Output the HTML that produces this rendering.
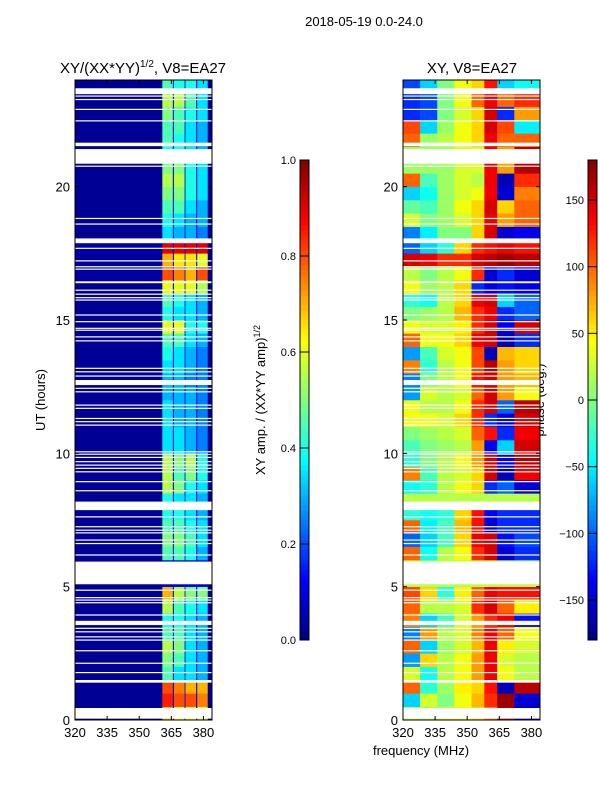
<!DOCTYPE html>
<html><head><meta charset="utf-8">
<style>
body{margin:0;background:#fff;}
svg text{font-family:"Liberation Sans","DejaVu Sans",sans-serif;fill:#000;}
</style></head>
<body>
<svg id="fig" width="600" height="800" viewBox="0 0 600 800" xmlns="http://www.w3.org/2000/svg">
<rect width="600" height="800" fill="#fff"/>
<text x="364" y="26" font-size="13" text-anchor="middle">2018-05-19 0.0-24.0</text>
<text x="143" y="73" font-size="15" text-anchor="middle">XY/(XX*YY)<tspan font-size="10" dy="-6">1/2</tspan><tspan dy="6">, V8=EA27</tspan></text>
<text x="472" y="73" font-size="15" text-anchor="middle">XY, V8=EA27</text>
<text x="0" y="0" font-size="13" text-anchor="middle" transform="translate(45,400) rotate(-90)">UT (hours)</text>
<text x="421" y="755" font-size="13" text-anchor="middle">frequency (MHz)</text>
<text x="0" y="0" font-size="13" text-anchor="middle" transform="translate(265,400) rotate(-90)">XY amp. / (XX*YY amp)<tspan font-size="9" dy="-5">1/2</tspan></text>
<text x="0" y="0" font-size="13" text-anchor="middle" transform="translate(544,400) rotate(-90)">phase (deg.)</text>
<g id="layer"></g>
</svg>
<script>
const timeStep = 0.5;
const ampFreqEdges = [320,360.8,365.7,366.2,371.2,371.6,376.6,377.1,382,384];
const phaseFreqEdges = [320,328,336,344,352,358,364,372,384];
const ampRows = [
[.02,.7,.1,.6,.1,.6,.1,.6,.02],
[.02,.85,.1,.8,.1,.8,.1,.75,.02],
[.02,.8,.1,.75,.1,.7,.1,.7,.02],
[.02,.45,.1,.35,.1,.35,.1,.3,.02],
[.02,.5,.1,.45,.1,.35,.1,.3,.02],
[.02,.55,.1,.5,.1,.35,.1,.3,.02],
[.02,.45,.1,.45,.1,.35,.1,.3,.02],
[.02,.4,.1,.4,.1,.35,.1,.3,.02],
[.02,.55,.1,.45,.1,.4,.1,.35,.02],
[.02,.7,.1,.55,.1,.5,.1,.5,.02],
[.02,.1,.1,.1,.1,.1,.1,.1,.02],
[.02,.1,.1,.1,.1,.1,.1,.1,.02],
[.02,.45,.1,.45,.1,.4,.1,.3,.02],
[.02,.5,.1,.5,.1,.45,.1,.35,.02],
[.02,.45,.1,.45,.1,.4,.1,.35,.02],
[.02,.4,.1,.4,.1,.35,.1,.3,.02],
[.02,.4,.1,.35,.1,.35,.1,.3,.02],
[.02,.55,.1,.5,.1,.4,.1,.35,.02],
[.02,.55,.1,.45,.1,.5,.1,.4,.02],
[.02,.55,.1,.5,.1,.55,.1,.4,.02],
[.02,.35,.1,.35,.1,.3,.1,.25,.02],
[.02,.35,.1,.35,.1,.3,.1,.25,.02],
[.02,.35,.1,.3,.1,.3,.1,.25,.02],
[.02,.35,.1,.3,.1,.3,.1,.25,.02],
[.02,.3,.1,.3,.1,.3,.1,.25,.02],
[.02,.3,.1,.3,.1,.25,.1,.25,.02],
[.02,.35,.1,.35,.1,.3,.1,.25,.02],
[.02,.4,.1,.35,.1,.3,.1,.25,.02],
[.02,.45,.1,.45,.1,.35,.1,.3,.02],
[.02,.6,.1,.6,.1,.4,.1,.4,.02],
[.02,.4,.1,.35,.1,.35,.1,.3,.02],
[.02,.45,.1,.4,.1,.35,.1,.3,.02],
[.02,.6,.1,.6,.1,.6,.1,.55,.02],
[.03,.8,.1,.75,.1,.7,.1,.8,.02],
[.03,.7,.1,.65,.1,.65,.1,.6,.02],
[.04,.9,.1,.9,.1,.9,.1,.9,.02],
[.02,.35,.1,.3,.1,.3,.1,.25,.02],
[.02,.4,.1,.35,.1,.3,.1,.3,.02],
[.02,.45,.1,.45,.1,.35,.1,.3,.02],
[.02,.5,.1,.5,.1,.4,.1,.35,.02],
[.02,.55,.1,.55,.1,.4,.1,.35,.02],
[.02,.5,.1,.5,.1,.4,.1,.35,.02],
[.02,.4,.1,.4,.1,.35,.1,.3,.02],
[.02,.45,.1,.4,.1,.35,.1,.3,.02],
[.02,.45,.1,.45,.1,.35,.1,.3,.02],
[.02,.5,.1,.45,.1,.4,.1,.35,.02],
[.02,.55,.1,.55,.1,.45,.1,.35,.02],
[.02,.45,.1,.4,.1,.4,.1,.35,.02]
];
const phaseRows = [
[20,10,30,40,60,90,160,-170],
[-60,30,0,40,70,120,170,-150],
[100,-30,10,50,60,130,-160,160],
[30,-40,20,40,80,140,40,20],
[-80,60,20,40,80,140,30,20],
[100,-60,10,30,70,140,50,30],
[-90,80,20,30,90,140,100,40],
[90,-60,-20,30,80,120,140,-130],
[100,20,20,30,120,150,100,50],
[110,60,-30,50,100,140,130,130],
[20,20,20,20,20,20,20,20],
[20,20,20,20,20,20,20,20],
[100,-40,20,40,120,150,-150,-120],
[-100,-60,-20,60,140,150,-130,-110],
[100,-50,-20,70,130,-150,-120,-120],
[-30,-40,-30,60,130,-140,-120,-120],
[20,20,20,20,20,20,20,20],
[-40,-30,20,40,60,-120,-100,-150],
[90,-20,20,30,60,150,-160,140],
[-30,0,20,40,80,150,-140,160],
[-20,0,10,20,80,-140,-60,150],
[0,10,20,30,100,130,-120,140],
[40,40,30,60,120,-120,-150,150],
[40,20,20,40,120,150,-100,160],
[-80,30,20,30,100,150,80,40],
[-90,0,20,40,130,150,80,70],
[90,-30,20,40,110,160,80,60],
[-80,-20,30,40,110,-160,70,60],
[100,40,40,60,140,150,-160,-120],
[40,30,30,50,120,150,-140,150],
[0,10,20,70,120,140,-120,-100],
[-30,-40,20,60,140,150,-60,-100],
[40,10,20,60,-120,-140,-130,-140],
[20,0,20,40,120,-150,-120,-150],
[150,140,120,120,150,160,170,160],
[-100,-60,-30,60,120,130,140,130],
[-90,-50,0,0,60,150,-150,-140],
[30,0,10,30,60,140,80,100],
[-10,-20,10,40,60,150,60,100],
[-60,-40,10,30,40,140,-150,90],
[100,-20,10,30,20,140,-160,120],
[10,10,10,30,30,140,80,160],
[10,10,10,30,30,140,80,160],
[100,10,20,40,60,140,100,100],
[110,-60,10,40,60,150,110,-50],
[-120,-110,0,30,60,150,-120,80],
[-120,-110,0,40,100,140,100,120],
[-110,-60,0,40,60,130,-60,-40]
];
const gaps = [[0.05,0.45],[1.4,1.5],[1.76,1.8],[2.11,2.15],[2.58,2.62],[2.98,3.02],[3.1,3.14],[3.29,3.33],[3.42,3.46],[3.56,3.72],[3.92,3.96],[4.38,4.42],[4.48,4.52],[4.57,4.61],[4.85,4.89],[5.09,5.94],[6.17,6.21],[6.6,6.64],[6.73,6.77],[7.0,7.04],[7.1,7.14],[7.23,7.27],[7.6,7.64],[7.87,8.19],[8.58,8.62],[8.92,8.96],[9.29,9.33],[9.42,9.46],[9.54,9.58],[9.67,9.71],[9.83,9.87],[9.95,9.99],[10.04,10.08],[11.04,11.08],[11.17,11.21],[11.29,11.33],[11.67,11.71],[11.79,11.83],[12.29,12.33],[12.42,12.46],[12.56,12.75],[12.88,12.92],[13.04,13.08],[13.17,13.21],[14.2,14.24],[14.35,14.39],[14.6,14.64],[14.67,14.71],[14.92,14.96],[15.17,15.21],[15.73,15.77],[15.82,15.86],[15.95,15.99],[16.1,16.14],[16.38,16.45],[16.89,16.93],[16.98,17.02],[17.2,17.24],[17.67,17.71],[17.88,18.06],[18.58,18.62],[18.79,18.83],[20.75,20.79],[20.86,21.41],[21.52,21.65],[22.45,22.49],[22.88,22.92],[23.25,23.29],[23.38,23.42],[23.47,23.69]];
const yTicks = [0,5,10,15,20];
const xTicks = [320,335,350,365,380];
const ampCbTicks = [0.0,0.2,0.4,0.6,0.8,1.0];
const phaseCbTicks = [-150,-100,-50,0,50,100,150];

const NS = "http://www.w3.org/2000/svg";
const layer = document.getElementById('layer');
const top_ = 80, bot = 720, tMin = 0, tMax = 24;
const yScale = t => bot - (t - tMin) / (tMax - tMin) * (bot - top_);
const panels = [
  {name:'amp', x0:75, x1:212, edges:ampFreqEdges, rows:ampRows, norm:v=>v},
  {name:'phase', x0:403, x1:540, edges:phaseFreqEdges, rows:phaseRows, norm:v=>(v+180)/360}
];
function jet(v){
  v = Math.max(0, Math.min(1, v));
  const r = Math.max(0, Math.min(1, 1.5 - Math.abs(4*v - 3)));
  const g = Math.max(0, Math.min(1, 1.5 - Math.abs(4*v - 2)));
  const b = Math.max(0, Math.min(1, 1.5 - Math.abs(4*v - 1)));
  return `rgb(${Math.round(r*255)},${Math.round(g*255)},${Math.round(b*255)})`;
}
function mk(tag, attrs, parent){
  const e = document.createElementNS(NS, tag);
  for (const k in attrs) e.setAttribute(k, attrs[k]);
  (parent || layer).appendChild(e);
  return e;
}
panels.forEach(p => {
  const xs = f => p.x0 + (f - 320) / (384 - 320) * (p.x1 - p.x0);
  const g = mk('g', {});
  
  
  p.rows.forEach((row, i) => {
    const t0 = i * timeStep, t1 = t0 + timeStep;
    row.forEach((v, j) => {
      const r = mk('rect', {x: xs(p.edges[j]), y: yScale(t1), width: xs(p.edges[j+1]) - xs(p.edges[j]) + 0.3, height: yScale(t0) - yScale(t1) + 0.3, fill: jet(p.norm(v))}, g);
      
      
    });
  });
  gaps.forEach(gp => {
    const r = mk('rect', {x: p.x0, y: yScale(gp[1]), width: p.x1 - p.x0, height: Math.max(1.2, yScale(gp[0]) - yScale(gp[1])), fill: '#fff'}, g);
    
    
  });
  const fr = mk('rect', {x: p.x0, y: top_, width: p.x1 - p.x0, height: bot - top_, fill: 'none', stroke: '#000', 'stroke-width': 1});
  
  
  yTicks.forEach(t => {
    const y = yScale(t);
    mk('line', {x1: p.x0, x2: p.x0 + 4, y1: y, y2: y, stroke: '#000'});
    mk('line', {x1: p.x1, x2: p.x1 - 4, y1: y, y2: y, stroke: '#000'});
    const tx = mk('text', {x: p.x0 - 5, y: y + 5, 'font-size': 13, 'text-anchor': 'end'});
    tx.textContent = t;
    
    
  });
  xTicks.forEach(f => {
    const x = xs(f);
    mk('line', {x1: x, x2: x, y1: bot, y2: bot - 4, stroke: '#000'});
    mk('line', {x1: x, x2: x, y1: top_, y2: top_ + 4, stroke: '#000'});
    const tx = mk('text', {x: x, y: bot + 17, 'font-size': 13, 'text-anchor': 'middle'});
    tx.textContent = f;
    
    
  });
});
const cbs = [
  {name:'amp-colorbar', x:300, ticks:ampCbTicks, min:0, max:1, fmt:v=>v.toFixed(1)},
  {name:'phase-colorbar', x:588, ticks:phaseCbTicks, min:-180, max:180, fmt:v=>String(v).replace('-', '\u2212')}
];
const cbTop = 160, cbBot = 640, cbW = 9;
cbs.forEach(c => {
  const g = mk('g', {});
  
  
  const n = 96;
  for (let k = 0; k < n; k++) {
    const y = cbBot - (k + 1) * (cbBot - cbTop) / n;
    mk('rect', {x: c.x, y: y, width: cbW, height: (cbBot - cbTop) / n + 0.4, fill: jet((k + 0.5) / n)}, g);
  }
  mk('rect', {x: c.x, y: cbTop, width: cbW, height: cbBot - cbTop, fill: 'none', stroke: '#000'}, g);
  const cy = v => cbBot - (v - c.min) / (c.max - c.min) * (cbBot - cbTop);
  c.ticks.forEach(v => {
    const y = cy(v);
    mk('line', {x1: c.x, x2: c.x + cbW, y1: y, y2: y, stroke: '#000'}, g);
    const tx = mk('text', {x: c.x - 4, y: y + 4, 'font-size': 11, 'text-anchor': 'end'}, g);
    tx.textContent = c.fmt(v);
    
    
  });
});
</script>
</body></html>
